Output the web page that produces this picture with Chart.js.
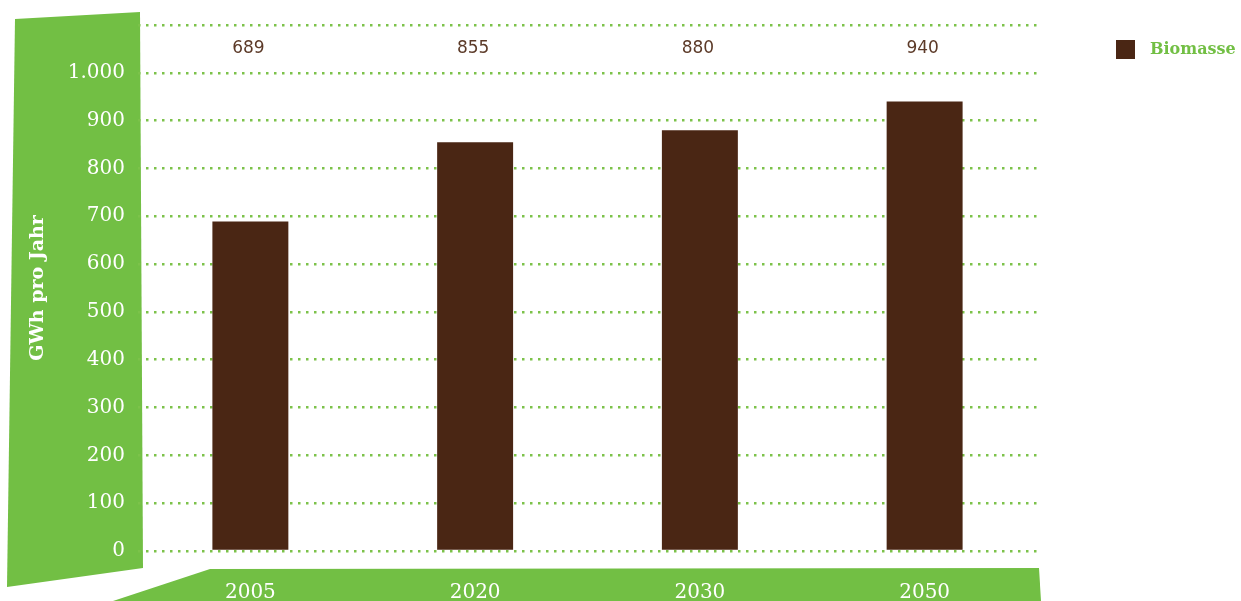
<!DOCTYPE html>
<html>
<head>
<meta charset="utf-8">
<script src="https://cdn.jsdelivr.net/npm/chart.js@4/dist/chart.umd.min.js"></script>
<style>
  body { margin: 0; background: #fff; }
  #wrap { width: 1241px; height: 601px; position: relative; }
</style>
</head>
<body>
<div id="wrap"><canvas id="chart"></canvas></div>
<script>
const years = ['2005', '2020', '2030', '2050'];
const biomasse = [689, 855, 880, 940];
const seriesName = 'Biomasse';
const axisTitle = 'GWh pro Jahr';

const green = '#72bf44';
const dotGreen = '#7cc24a';
const brown = '#4a2614';

// German thousands separator for the y ticks
function fmt(v) {
  return String(v).replace(/\B(?=(\d{3})+(?!\d))/g, '.');
}

// green panels behind the axes
const panels = {
  id: 'panels',
  beforeDraw(chart) {
    const { ctx } = chart;
    ctx.save();
    ctx.fillStyle = green;
    ctx.beginPath();
    ctx.moveTo(15, 19);
    ctx.lineTo(140, 12);
    ctx.lineTo(143, 568);
    ctx.lineTo(7, 587);
    ctx.closePath();
    ctx.fill();
    ctx.beginPath();
    ctx.moveTo(113, 601);
    ctx.lineTo(210, 569);
    ctx.lineTo(1039, 568);
    ctx.lineTo(1041, 601);
    ctx.closePath();
    ctx.fill();
    ctx.restore();
  },
};

// value labels in the top row + legend box
const extras = {
  id: 'extras',
  afterDatasetsDraw(chart) {
    const { ctx } = chart;
    const yScale = chart.scales.y;
    const ds = chart.data.datasets[0];
    ctx.save();
    ctx.fillStyle = '#5c3a28';
    ctx.font = '17px "DejaVu Sans"';
    ctx.textAlign = 'center';
    ctx.textBaseline = 'middle';
    chart.getDatasetMeta(0).data.forEach((bar, i) => {
      ctx.fillText(String(ds.data[i]), bar.x - 2, yScale.getPixelForValue(1050));
    });

    ctx.fillStyle = ds.backgroundColor;
    ctx.fillRect(1116, 40, 19, 19);
    ctx.fillStyle = green;
    ctx.font = 'bold 16px "DejaVu Serif"';
    ctx.textAlign = 'left';
    ctx.fillText(ds.label, 1150, 50);
    ctx.restore();
  },
};

new Chart(document.getElementById('chart'), {
  type: 'bar',
  plugins: [panels, extras],
  data: {
    labels: years,
    datasets: [{
      label: seriesName,
      data: biomasse,
      backgroundColor: brown,
      barPercentage: 0.338,
      categoryPercentage: 1,
    }],
  },
  options: {
    responsive: true,
    maintainAspectRatio: false,
    animation: false,
    layout: { padding: { top: 25, right: 204, left: 0, bottom: 0 } },
    plugins: {
      legend: { display: false },
      tooltip: { enabled: false },
    },
    scales: {
      x: {
        afterFit: (s) => { s.height = 50; },
        grid: { display: false, drawTicks: false },
        border: { display: false },
        ticks: {
          padding: 30,
          color: '#ffffff',
          font: { family: '"DejaVu Serif"', size: 20 },
        },
      },
      y: {
        min: 0,
        max: 1100,
        afterFit: (s) => { s.width = 138; },
        grid: {
          color: dotGreen,
          lineWidth: 2.5,
          drawTicks: false,
        },
        border: { display: false, dash: [2.5, 5.5] },
        ticks: {
          stepSize: 100,
          padding: 13,
          color: '#ffffff',
          font: { family: '"DejaVu Serif"', size: 20 },
          callback: (v) => (v > 1000 ? '' : fmt(v)),
        },
        title: {
          display: true,
          text: axisTitle,
          color: '#ffffff',
          font: { family: '"DejaVu Serif"', size: 19, weight: 'bold' },
          padding: { top: 27, bottom: 0 },
        },
      },
    },
  },
});
</script>
</body>
</html>
